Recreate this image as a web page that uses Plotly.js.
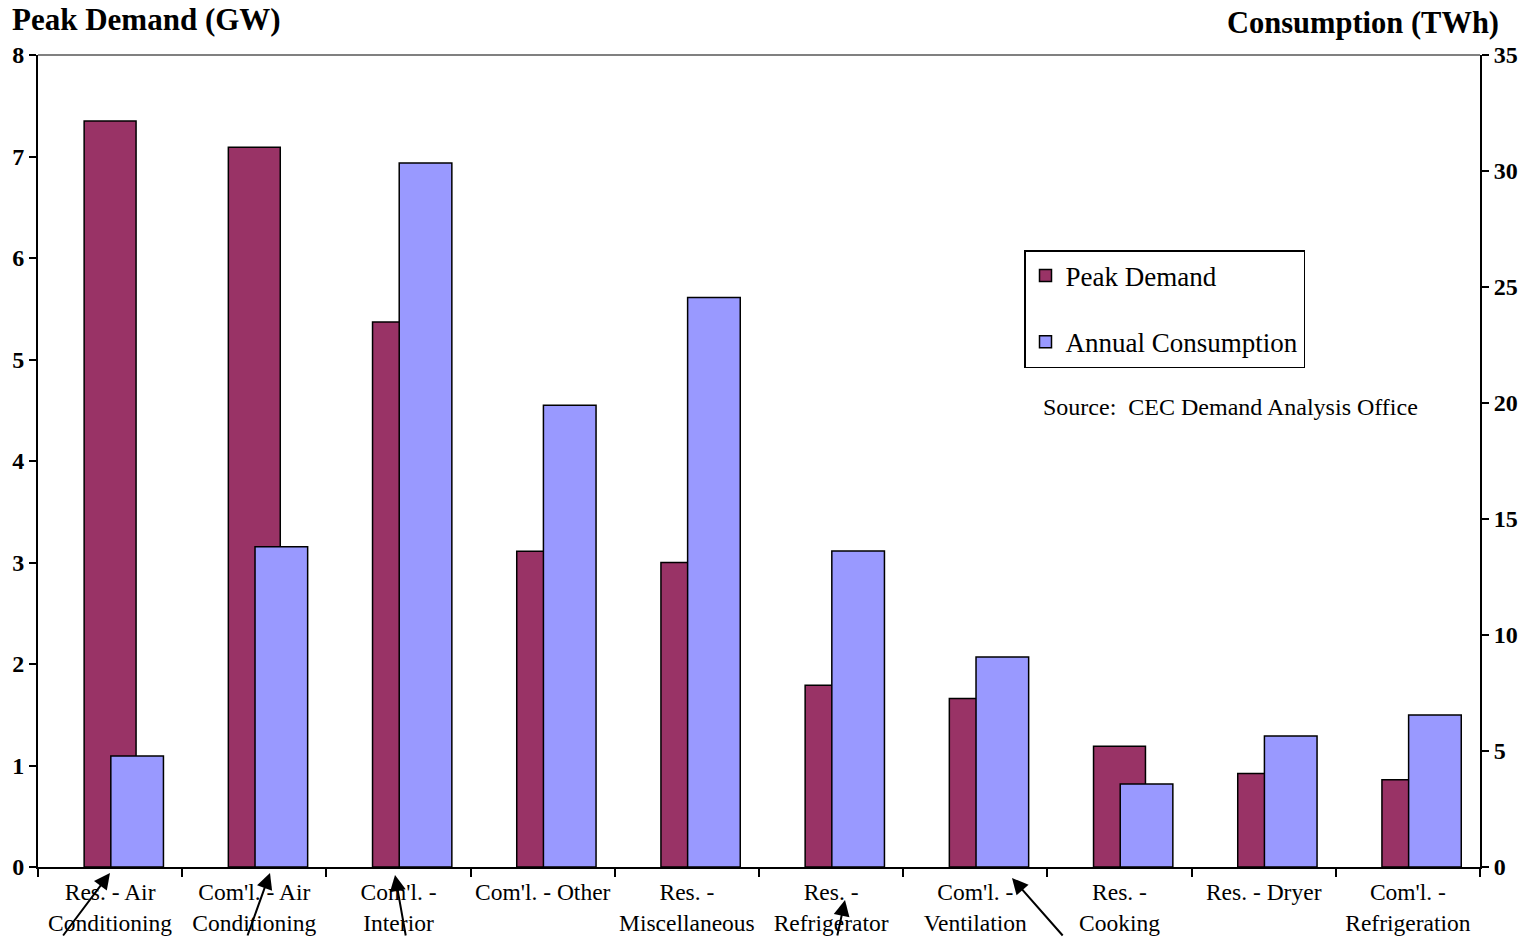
<!DOCTYPE html>
<html>
<head>
<meta charset="utf-8">
<script src="https://cdn.plot.ly/plotly-3.0.1.min.js"></script>
<style>
  html, body { margin: 0; padding: 0; background: #fff; }
  #chart { width: 1536px; height: 937px; }
</style>
</head>
<body>
<div id="chart"></div>
<script>
// End uses, ranked by peak demand
const categories = [
  "Res. - Air<br>Conditioning",
  "Com'l. - Air<br>Conditioning",
  "Com'l. -<br>Interior",
  "Com'l. - Other",
  "Res. -<br>Miscellaneous",
  "Res. -<br>Refrigerator",
  "Com'l. -<br>Ventilation",
  "Res. -<br>Cooking",
  "Res. - Dryer",
  "Com'l. -<br>Refrigeration"
];

// Peak demand, GW (left axis)
const peakDemand = [7.35, 7.09, 5.37, 3.11, 3.0, 1.79, 1.66, 1.19, 0.92, 0.86];

// Annual consumption, TWh (right axis)
const annualConsumption = [4.78, 13.8, 30.35, 19.9, 24.55, 13.62, 9.05, 3.58, 5.65, 6.55];

const serif = "Liberation Serif, Times New Roman, serif";

const traces = [
  {
    type: "bar",
    name: "Peak Demand",
    x: categories,
    y: peakDemand,
    yaxis: "y",
    width: 0.36,
    offset: -0.18,
    legendgroup: "a",
    marker: { color: "#993366", line: { color: "#000", width: 1.5 } },
    hoverinfo: "y"
  },
  {
    type: "bar",
    name: "Annual Consumption",
    x: categories,
    y: annualConsumption,
    yaxis: "y2",
    width: 0.365,
    offset: 0.005,
    legendgroup: "b",
    marker: { color: "#9999FF", line: { color: "#000", width: 1.5 } },
    hoverinfo: "y"
  }
];

// Pointer arrows beneath the category labels (paper coords for the heads, pixel offsets for the tails)
const W = 1442, H = 812, L = 38, B = 867;
function px(x) { return (x - L) / W; }
function py(y) { return (B - y) / H; }
const arrows = [
  { hx: 110, hy: 873, tx: 62, ty: 945 },
  { hx: 270, hy: 873, tx: 247, ty: 945 },
  { hx: 395, hy: 875, tx: 406, ty: 945 },
  { hx: 845, hy: 900, tx: 837, ty: 945 },
  { hx: 1012, hy: 878, tx: 1064, ty: 945 }
].map(a => ({
  xref: "paper", yref: "paper",
  x: px(a.hx), y: py(a.hy),
  ax: a.tx - a.hx, ay: a.ty - a.hy,
  axref: "pixel", ayref: "pixel",
  text: "",
  showarrow: true,
  arrowhead: 2,
  arrowsize: 1.6,
  arrowwidth: 2,
  arrowcolor: "#000"
}));

const tickFontBold = { family: serif, size: 24, color: "#000", weight: 700 };

const layout = {
  width: 1536,
  height: 937,
  margin: { l: 38, r: 56, t: 55, b: 70 },
  paper_bgcolor: "#fff",
  plot_bgcolor: "#fff",
  showlegend: true,
  bargap: 0,
  font: { family: serif, color: "#000" },
  xaxis: {
    type: "category",
    showline: true,
    linecolor: "#000",
    linewidth: 2,
    ticks: "outside",
    tickson: "boundaries",
    ticklen: 8,
    tickwidth: 2,
    tickcolor: "#000",
    tickangle: 0,
    ticklabelstandoff: 3,
    tickfont: { family: serif, size: 23.5, color: "#000" },
    showgrid: false,
    fixedrange: true
  },
  yaxis: {
    range: [0, 8],
    dtick: 1,
    showline: true,
    linecolor: "#000",
    linewidth: 2,
    ticks: "outside",
    ticklen: 7,
    tickwidth: 2,
    tickcolor: "#000",
    showgrid: false,
    zeroline: false,
    tickfont: tickFontBold
  },
  yaxis2: {
    overlaying: "y",
    side: "right",
    range: [0, 35],
    dtick: 5,
    showline: true,
    linecolor: "#000",
    linewidth: 2,
    ticks: "outside",
    ticklen: 7,
    tickwidth: 2,
    tickcolor: "#000",
    showgrid: false,
    zeroline: false,
    tickfont: tickFontBold
  },
  legend: {
    x: px(1024),
    y: py(250),
    xanchor: "left",
    yanchor: "top",
    bgcolor: "#fff",
    bordercolor: "#000",
    borderwidth: 1.5,
    font: { family: serif, size: 27, color: "#000" },
    traceorder: "grouped",
    tracegroupgap: 28,
    itemwidth: 30
  },
  shapes: [
    { type: "line", xref: "paper", yref: "paper", x0: 0, x1: 1, y0: 1, y1: 1,
      line: { color: "#808080", width: 2 } }
  ],
  annotations: [
    { xref: "paper", yref: "paper", x: px(10), y: py(20), xanchor: "left", yanchor: "middle",
      text: "<b>Peak Demand (GW)</b>", showarrow: false,
      font: { family: serif, size: 31, color: "#000" } },
    { xref: "paper", yref: "paper", x: px(1501), y: py(23), xanchor: "right", yanchor: "middle",
      text: "<b>Consumption (TWh)</b>", showarrow: false,
      font: { family: serif, size: 30.5, color: "#000" } },
    { xref: "paper", yref: "paper", x: px(1041), y: py(407), xanchor: "left", yanchor: "middle",
      text: "Source:  CEC Demand Analysis Office", showarrow: false,
      font: { family: serif, size: 24, color: "#000" } }
  ].concat(arrows)
};

Plotly.newPlot("chart", traces, layout, { displayModeBar: false, staticPlot: true });
</script>
</body>
</html>
